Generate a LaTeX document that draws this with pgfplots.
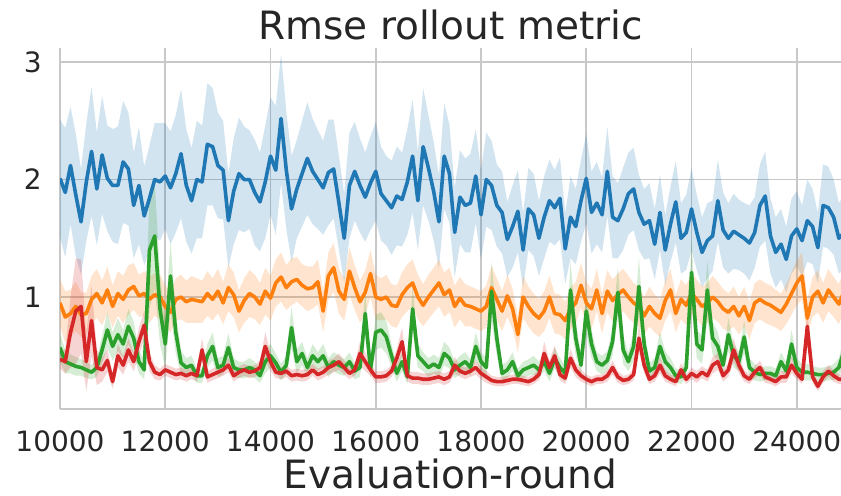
\documentclass[border=0pt]{standalone}
\usepackage{fontspec}
\setmainfont{DejaVu Sans}
\usepackage{pgfplots}
\pgfplotsset{compat=1.18}
\usepackage{pgfplotstable}
\usepgfplotslibrary{fillbetween}
\definecolor{tblue}{HTML}{1F77B4}
\definecolor{torange}{HTML}{FF7F0E}
\definecolor{tgreen}{HTML}{2CA02C}
\definecolor{tred}{HTML}{D62728}
\definecolor{gridc}{HTML}{C8C8C8}
\definecolor{tdark}{HTML}{262626}
\pgfplotstableread{
x bm bs om os gm gs rm rs
10000 2.01 0.50 0.95 0.20 0.57 0.12 0.47 0.08
10100 1.89 0.55 0.83 0.22 0.45 0.10 0.45 0.10
10200 2.12 0.50 0.86 0.20 0.43 0.08 0.70 0.30
10300 1.87 0.52 0.92 0.21 0.41 0.08 0.88 0.45
10400 1.64 0.45 0.85 0.19 0.40 0.07 0.92 0.40
10500 1.98 0.50 0.86 0.18 0.38 0.07 0.45 0.25
10600 2.24 0.55 0.98 0.20 0.36 0.06 0.80 0.30
10700 1.92 0.48 1.03 0.21 0.40 0.08 0.40 0.15
10800 2.21 0.50 0.95 0.19 0.55 0.12 0.38 0.10
10900 2.01 0.45 1.06 0.20 0.72 0.15 0.46 0.10
11000 1.95 0.48 0.92 0.18 0.58 0.12 0.28 0.06
11100 1.95 0.50 1.03 0.19 0.68 0.14 0.50 0.10
11200 2.15 0.52 0.98 0.20 0.60 0.12 0.42 0.08
11300 2.09 0.48 1.06 0.21 0.75 0.15 0.55 0.10
11400 1.78 0.45 1.09 0.20 0.65 0.14 0.45 0.08
11500 1.95 0.50 1.01 0.18 0.45 0.10 0.62 0.12
11600 1.69 0.42 1.03 0.19 0.38 0.08 0.76 0.12
11700 1.84 0.45 0.98 0.20 1.40 0.50 0.45 0.08
11800 2.00 0.48 1.02 0.18 1.52 0.45 0.36 0.06
11900 1.98 0.50 1.00 0.19 0.90 0.30 0.34 0.05
12000 2.03 0.45 0.92 0.18 0.60 0.20 0.38 0.05
12100 1.93 0.48 0.87 0.17 1.18 0.30 0.36 0.05
12200 2.05 0.50 0.98 0.18 0.70 0.18 0.34 0.05
12300 2.22 0.55 1.00 0.19 0.44 0.10 0.35 0.05
12400 1.95 0.48 0.96 0.18 0.40 0.08 0.33 0.05
12500 1.82 0.45 0.98 0.20 0.42 0.08 0.35 0.05
12600 2.00 0.50 0.97 0.19 0.33 0.06 0.33 0.05
12700 1.98 0.48 0.96 0.18 0.33 0.06 0.55 0.10
12800 2.30 0.52 1.03 0.19 0.50 0.10 0.32 0.05
12900 2.28 0.50 0.98 0.18 0.58 0.12 0.34 0.05
13000 2.12 0.45 1.05 0.19 0.40 0.08 0.36 0.05
13100 2.08 0.42 0.95 0.18 0.42 0.08 0.38 0.05
13200 1.65 0.40 1.08 0.20 0.57 0.12 0.42 0.06
13300 1.90 0.45 1.02 0.19 0.40 0.08 0.33 0.05
13400 2.05 0.48 0.88 0.18 0.38 0.07 0.36 0.05
13500 2.00 0.45 0.97 0.19 0.38 0.07 0.38 0.05
13600 2.00 0.42 1.03 0.20 0.40 0.08 0.36 0.05
13700 1.89 0.45 1.00 0.19 0.38 0.07 0.37 0.05
13800 1.81 0.42 0.94 0.18 0.33 0.06 0.40 0.06
13900 1.98 0.48 1.05 0.20 0.45 0.10 0.58 0.12
14000 2.20 0.50 0.99 0.19 0.50 0.10 0.45 0.08
14100 2.08 0.55 1.12 0.20 0.44 0.08 0.36 0.05
14200 2.52 0.55 1.17 0.21 0.36 0.07 0.35 0.05
14300 2.08 0.50 1.08 0.19 0.42 0.08 0.37 0.05
14400 1.75 0.45 1.13 0.20 0.74 0.18 0.33 0.05
14500 1.92 0.42 1.15 0.19 0.45 0.10 0.34 0.05
14600 2.05 0.45 1.10 0.18 0.52 0.10 0.33 0.05
14700 2.18 0.48 1.07 0.19 0.40 0.08 0.34 0.05
14800 2.07 0.45 1.08 0.18 0.50 0.10 0.38 0.05
14900 2.00 0.42 1.13 0.19 0.45 0.08 0.34 0.05
15000 1.93 0.40 0.88 0.18 0.50 0.10 0.36 0.05
15100 2.06 0.45 1.18 0.20 0.40 0.08 0.40 0.06
15200 2.09 0.42 1.25 0.21 0.45 0.08 0.42 0.06
15300 1.80 0.40 1.05 0.19 0.42 0.08 0.45 0.07
15400 1.50 0.38 0.98 0.18 0.40 0.07 0.40 0.06
15500 1.95 0.45 1.22 0.20 0.45 0.08 0.35 0.05
15600 2.07 0.42 1.08 0.19 0.37 0.07 0.38 0.05
15700 1.95 0.40 0.96 0.18 0.40 0.08 0.52 0.10
15800 1.85 0.38 1.04 0.19 0.86 0.20 0.45 0.08
15900 1.97 0.40 1.20 0.20 0.38 0.07 0.38 0.05
16000 2.07 0.42 1.00 0.19 0.70 0.15 0.32 0.05
16100 1.88 0.40 0.98 0.18 0.72 0.15 0.32 0.05
16200 1.82 0.38 1.00 0.19 0.66 0.14 0.33 0.05
16300 1.76 0.40 0.93 0.18 0.50 0.10 0.37 0.05
16400 1.86 0.42 0.92 0.18 0.35 0.07 0.48 0.08
16500 1.83 0.40 1.02 0.19 0.45 0.08 0.62 0.12
16600 1.98 0.45 1.08 0.20 0.32 0.06 0.33 0.05
16700 2.20 0.48 1.12 0.20 0.90 0.20 0.31 0.05
16800 1.82 0.42 1.00 0.19 0.50 0.10 0.31 0.05
16900 2.28 0.50 0.93 0.18 0.45 0.08 0.30 0.05
17000 2.10 0.45 1.00 0.19 0.40 0.08 0.30 0.05
17100 1.90 0.42 1.06 0.19 0.43 0.08 0.31 0.05
17200 1.64 0.40 1.12 0.20 0.40 0.08 0.32 0.05
17300 2.20 0.45 1.02 0.19 0.52 0.10 0.30 0.05
17400 2.05 0.42 1.06 0.19 0.48 0.09 0.32 0.05
17500 1.55 0.38 0.92 0.18 0.38 0.07 0.42 0.07
17600 1.85 0.40 0.99 0.18 0.42 0.08 0.37 0.05
17700 1.78 0.40 0.93 0.18 0.45 0.08 0.35 0.05
17800 1.80 0.42 0.92 0.17 0.40 0.07 0.37 0.05
17900 2.03 0.40 0.90 0.17 0.58 0.12 0.40 0.06
18000 1.70 0.38 0.88 0.17 0.45 0.08 0.35 0.05
18100 2.00 0.40 0.92 0.18 0.40 0.08 0.32 0.05
18200 1.95 0.38 1.08 0.19 1.05 0.25 0.29 0.04
18300 1.78 0.35 0.98 0.18 0.65 0.15 0.28 0.04
18400 1.72 0.35 0.88 0.17 0.35 0.07 0.28 0.04
18500 1.49 0.32 1.01 0.18 0.38 0.07 0.29 0.04
18600 1.60 0.35 0.90 0.17 0.45 0.08 0.30 0.04
18700 1.73 0.35 0.68 0.15 0.33 0.06 0.30 0.04
18800 1.40 0.32 1.00 0.18 0.38 0.07 0.29 0.04
18900 1.75 0.35 0.92 0.17 0.40 0.07 0.28 0.04
19000 1.70 0.35 0.86 0.17 0.42 0.08 0.30 0.04
19100 1.50 0.32 0.82 0.16 0.38 0.07 0.34 0.05
19200 1.68 0.35 0.88 0.17 0.45 0.08 0.52 0.10
19300 1.82 0.35 1.00 0.18 0.35 0.07 0.40 0.06
19400 1.76 0.32 0.86 0.17 0.48 0.09 0.50 0.09
19500 1.84 0.35 0.85 0.17 0.40 0.08 0.34 0.05
19600 1.41 0.30 0.80 0.16 0.35 0.07 0.31 0.05
19700 1.68 0.35 0.90 0.18 1.06 0.25 0.48 0.08
19800 1.60 0.32 0.95 0.18 0.65 0.15 0.38 0.06
19900 1.82 0.35 1.10 0.19 0.42 0.08 0.33 0.05
20000 2.01 0.38 0.95 0.18 0.88 0.20 0.30 0.04
20100 1.72 0.35 0.90 0.17 0.60 0.12 0.28 0.04
20200 1.80 0.35 1.06 0.18 0.45 0.08 0.30 0.04
20300 1.70 0.32 0.86 0.17 0.42 0.08 0.30 0.04
20400 2.07 0.38 1.05 0.18 0.46 0.08 0.33 0.05
20500 1.68 0.35 0.97 0.18 0.62 0.12 0.40 0.06
20600 1.65 0.32 1.02 0.18 1.04 0.22 0.32 0.05
20700 1.75 0.35 1.06 0.18 0.55 0.12 0.29 0.04
20800 1.88 0.35 1.00 0.18 0.45 0.08 0.30 0.04
20900 1.92 0.35 0.95 0.17 0.58 0.12 0.34 0.05
21000 1.72 0.32 0.92 0.17 1.09 0.25 0.65 0.12
21100 1.62 0.30 0.84 0.16 0.60 0.12 0.42 0.07
21200 1.65 0.32 0.92 0.17 0.37 0.07 0.30 0.04
21300 1.45 0.30 0.86 0.16 0.40 0.08 0.33 0.05
21400 1.72 0.32 0.82 0.16 0.58 0.12 0.42 0.07
21500 1.40 0.30 0.97 0.17 0.45 0.09 0.33 0.05
21600 1.62 0.32 1.06 0.18 0.40 0.08 0.30 0.04
21700 1.81 0.35 0.86 0.16 0.33 0.06 0.28 0.04
21800 1.50 0.30 0.98 0.17 0.32 0.06 0.38 0.06
21900 1.55 0.32 0.93 0.17 0.40 0.08 0.30 0.04
22000 1.75 0.35 1.03 0.18 1.21 0.28 0.35 0.05
22100 1.55 0.32 0.98 0.17 0.60 0.12 0.32 0.05
22200 1.38 0.30 0.92 0.17 0.55 0.12 0.36 0.05
22300 1.48 0.32 0.95 0.17 1.06 0.25 0.33 0.05
22400 1.52 0.30 1.00 0.18 0.65 0.14 0.42 0.07
22500 1.82 0.35 0.96 0.17 0.58 0.12 0.45 0.07
22600 1.57 0.32 0.90 0.17 0.42 0.08 0.33 0.05
22700 1.50 0.30 0.87 0.16 0.68 0.14 0.38 0.06
22800 1.56 0.32 0.92 0.17 0.50 0.10 0.55 0.10
22900 1.53 0.30 0.84 0.16 0.45 0.08 0.42 0.07
23000 1.50 0.30 0.92 0.17 0.66 0.14 0.33 0.05
23100 1.46 0.32 0.80 0.16 0.40 0.08 0.30 0.04
23200 1.55 0.30 0.95 0.17 0.36 0.07 0.36 0.05
23300 1.78 0.35 0.98 0.17 0.34 0.06 0.40 0.06
23400 1.86 0.38 0.95 0.17 0.35 0.06 0.32 0.05
23500 1.52 0.32 0.93 0.17 0.35 0.06 0.30 0.04
23600 1.38 0.30 0.90 0.16 0.33 0.06 0.28 0.04
23700 1.45 0.30 0.87 0.16 0.45 0.08 0.32 0.05
23800 1.32 0.28 0.94 0.17 0.37 0.07 0.32 0.05
23900 1.52 0.32 1.03 0.18 0.60 0.12 0.42 0.07
24000 1.58 0.32 1.12 0.19 0.40 0.08 0.35 0.05
24100 1.48 0.30 1.18 0.20 0.36 0.07 0.30 0.04
24200 1.65 0.35 0.82 0.16 0.36 0.07 0.75 0.15
24300 1.60 0.32 1.00 0.17 0.35 0.06 0.32 0.05
24400 1.42 0.30 1.05 0.18 0.34 0.06 0.24 0.04
24500 1.78 0.35 0.95 0.17 0.34 0.06 0.32 0.05
24600 1.76 0.35 1.06 0.18 0.35 0.06 0.37 0.05
24700 1.68 0.32 1.00 0.17 0.36 0.07 0.33 0.05
24800 1.50 0.30 0.94 0.17 0.40 0.08 0.30 0.04
24900 1.55 0.32 1.05 0.18 0.55 0.12 0.30 0.04
}\data

\begin{document}
\begin{tikzpicture}
\begin{axis}[
  name=ax,
  scale only axis,
  width=390.5pt, height=180.5pt,
  xmin=10000, xmax=24840, ymin=0.047, ymax=3.12,
  xtick={10000,12000,14000,16000,18000,20000,22000,24000},
  ytick={1,2,3},
  grid=major,
  major grid style={draw=gridc, line width=0.9pt},
  axis x line*=bottom, axis y line*=left,
  axis line style={draw=gridc, line width=0.9pt, -},
  major tick length=0pt, tick style={draw=none},
  scaled x ticks=false,
  /pgf/number format/1000 sep={},
  /pgf/number format/assume math mode=true,
  ticklabel style={font=\fontsize{14}{16}\selectfont, text=tdark},
  xticklabel style={anchor=base, yshift=-21.5pt, inner sep=0pt},
  yticklabel style={anchor=east, inner sep=0pt, xshift=-9pt},
  title={Rmse rollout metric},
  every axis title/.style={at={(axis description cs:0.5,1)}, anchor=base, yshift=4pt, font=\fontsize{19.5}{22}\selectfont, text=tdark},
  xlabel={Evaluation-round},
  every axis x label/.style={at={(axis description cs:0.5,0)}, anchor=base, yshift=-40pt, font=\fontsize{19.5}{22}\selectfont, text=tdark},
  clip=true,
]
% bands
\addplot[name path=bu, draw=none, forget plot] table[x=x, y expr=\thisrow{bm}+\thisrow{bs}] {\data};
\addplot[name path=bl, draw=none, forget plot] table[x=x, y expr=\thisrow{bm}-\thisrow{bs}] {\data};
\addplot[fill=tblue, fill opacity=0.2, draw=none, forget plot] fill between[of=bu and bl];
\addplot[name path=ou, draw=none, forget plot] table[x=x, y expr=\thisrow{om}+\thisrow{os}] {\data};
\addplot[name path=ol, draw=none, forget plot] table[x=x, y expr=\thisrow{om}-\thisrow{os}] {\data};
\addplot[fill=torange, fill opacity=0.2, draw=none, forget plot] fill between[of=ou and ol];
\addplot[name path=gu, draw=none, forget plot] table[x=x, y expr=\thisrow{gm}+\thisrow{gs}] {\data};
\addplot[name path=gl, draw=none, forget plot] table[x=x, y expr=\thisrow{gm}-\thisrow{gs}] {\data};
\addplot[fill=tgreen, fill opacity=0.2, draw=none, forget plot] fill between[of=gu and gl];
\addplot[name path=ru, draw=none, forget plot] table[x=x, y expr=\thisrow{rm}+\thisrow{rs}] {\data};
\addplot[name path=rl, draw=none, forget plot] table[x=x, y expr=\thisrow{rm}-\thisrow{rs}] {\data};
\addplot[fill=tred, fill opacity=0.2, draw=none, forget plot] fill between[of=ru and rl];
% lines
\addplot[tblue, line width=1.8pt, line join=round, mark=none] table[x=x, y=bm] {\data};
\addplot[torange, line width=1.8pt, line join=round, mark=none] table[x=x, y=om] {\data};
\addplot[tgreen, line width=1.8pt, line join=round, mark=none] table[x=x, y=gm] {\data};
\addplot[tred, line width=1.8pt, line join=round, mark=none] table[x=x, y=rm] {\data};
\end{axis}
\pgfresetboundingbox
\path ([shift={(-30pt,-43.5pt)}]ax.south west) rectangle ([shift={(0pt,24pt)}]ax.north east);
\end{tikzpicture}
\end{document}
